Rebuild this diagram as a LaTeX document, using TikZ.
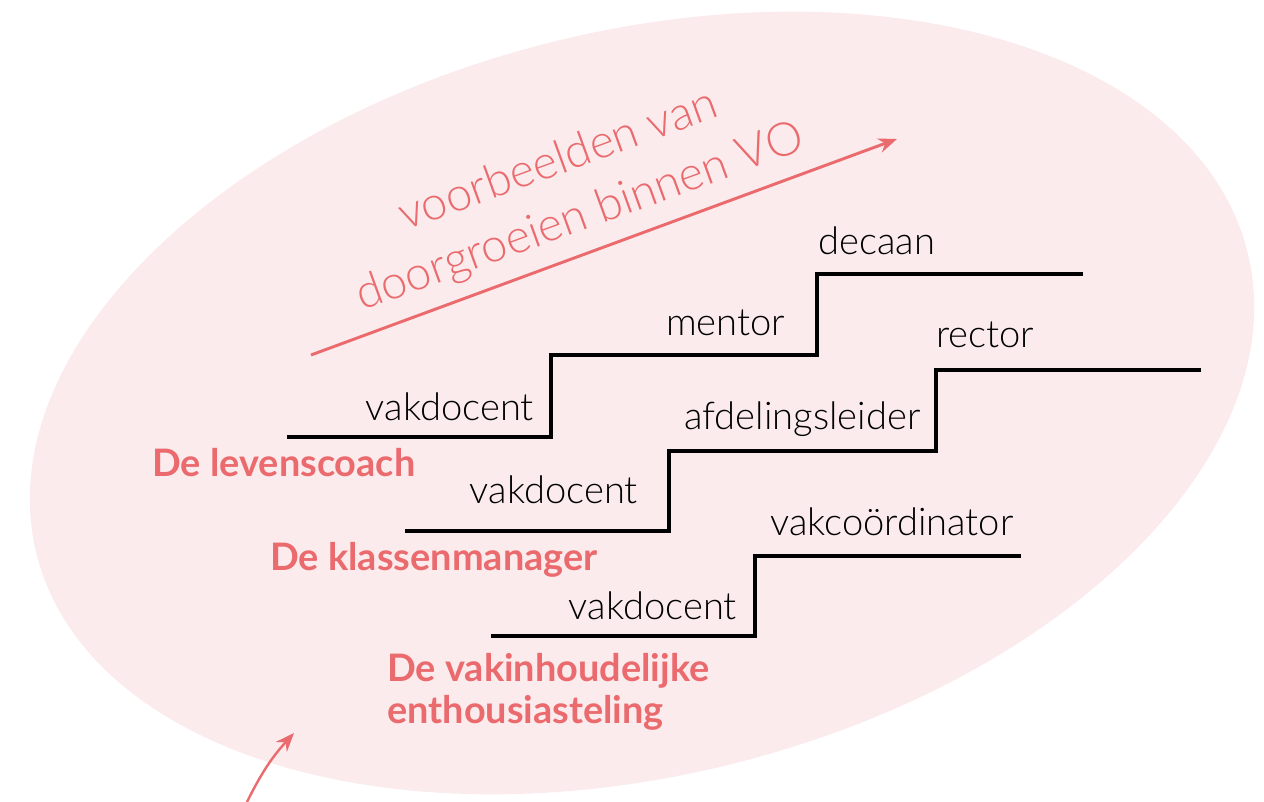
\documentclass[tikz,border=0pt]{standalone}
\usepackage{fontspec}
\usetikzlibrary{arrows.meta}
\newfontfamily\lightf{Lato Light}
\newfontfamily\boldf{Lato Bold}
\definecolor{blobpink}{HTML}{FBEBEC}
\definecolor{accent}{HTML}{EA6A6E}
\tikzset{
  stair/.style={line width=2.4pt, line join=miter, black},
  role/.style={font=\lightf\fontsize{28.6}{34}\selectfont, text=black, inner sep=0pt, anchor=base east},
  roleL/.style={font=\lightf\fontsize{28.6}{34}\selectfont, text=black, inner sep=0pt, anchor=base west},
  profile/.style={font=\boldf\fontsize{28.4}{34}\selectfont, text=accent, inner sep=0pt, anchor=base west},
  slant/.style={font=\lightf\fontsize{35}{40}\selectfont, text=accent, inner sep=0pt, anchor=base west, rotate=20},
  arr/.style={accent, line width=2.2pt, -{Stealth[length=14pt, width=11pt]}}
}
\begin{document}
\begin{tikzpicture}[x=0.75pt, y=-0.75pt]
\useasboundingbox (0,0) rectangle (1264,802);
% blob
\fill[blobpink, rotate around={14:(642,403)}] (642,403) ellipse [x radius=468pt, y radius=279pt];
% slanted title
\node[slant] (t1) at (405,231) {voorbeelden van};
\node[slant] (t2) at (362,311) {doorgroeien binnen VO};
\coordinate (a1s) at (311,355);
\coordinate (a1e) at (897,139);
\draw[arr] (a1s) -- (a1e);
% stairs 1
\draw[stair] (287,437) -- (551,437) -- (551,355) -- (817,355) -- (817,274) -- (1083,274);
\node[role] (s1a) at (534,420) {vakdocent};
\node[roleL] (s1b) at (666,335) {mentor};
\node[roleL] (s1c) at (818,255) {decaan};
\node[profile] (p1) at (152,476) {De levenscoach};
% stairs 2
\draw[stair] (405,531) -- (669,531) -- (669,451) -- (936,451) -- (936,370) -- (1201,370);
\node[role] (s2a) at (638,503) {vakdocent};
\node[roleL] (s2b) at (684,429) {afdelingsleider};
\node[roleL] (s2c) at (936,348) {rector};
\node[profile] (p2) at (270,570) {De klassenmanager};
% stairs 3
\draw[stair] (491,636) -- (755,636) -- (755,556) -- (1021,556);
\node[role] (s3a) at (737,619) {vakdocent};
\node[roleL] (s3b) at (770,535) {vakcoördinator};
\node[profile] (p3) at (387,681) {De vakinhoudelijke};
\node[profile] (p4) at (387,723) {enthousiasteling};
% bottom arrow
\coordinate (b1s) at (247,802);
\coordinate (b1e) at (294,733);
\draw[arr, line width=1.8pt] (b1s) to[bend left=8] (b1e);
\end{tikzpicture}
\end{document}
